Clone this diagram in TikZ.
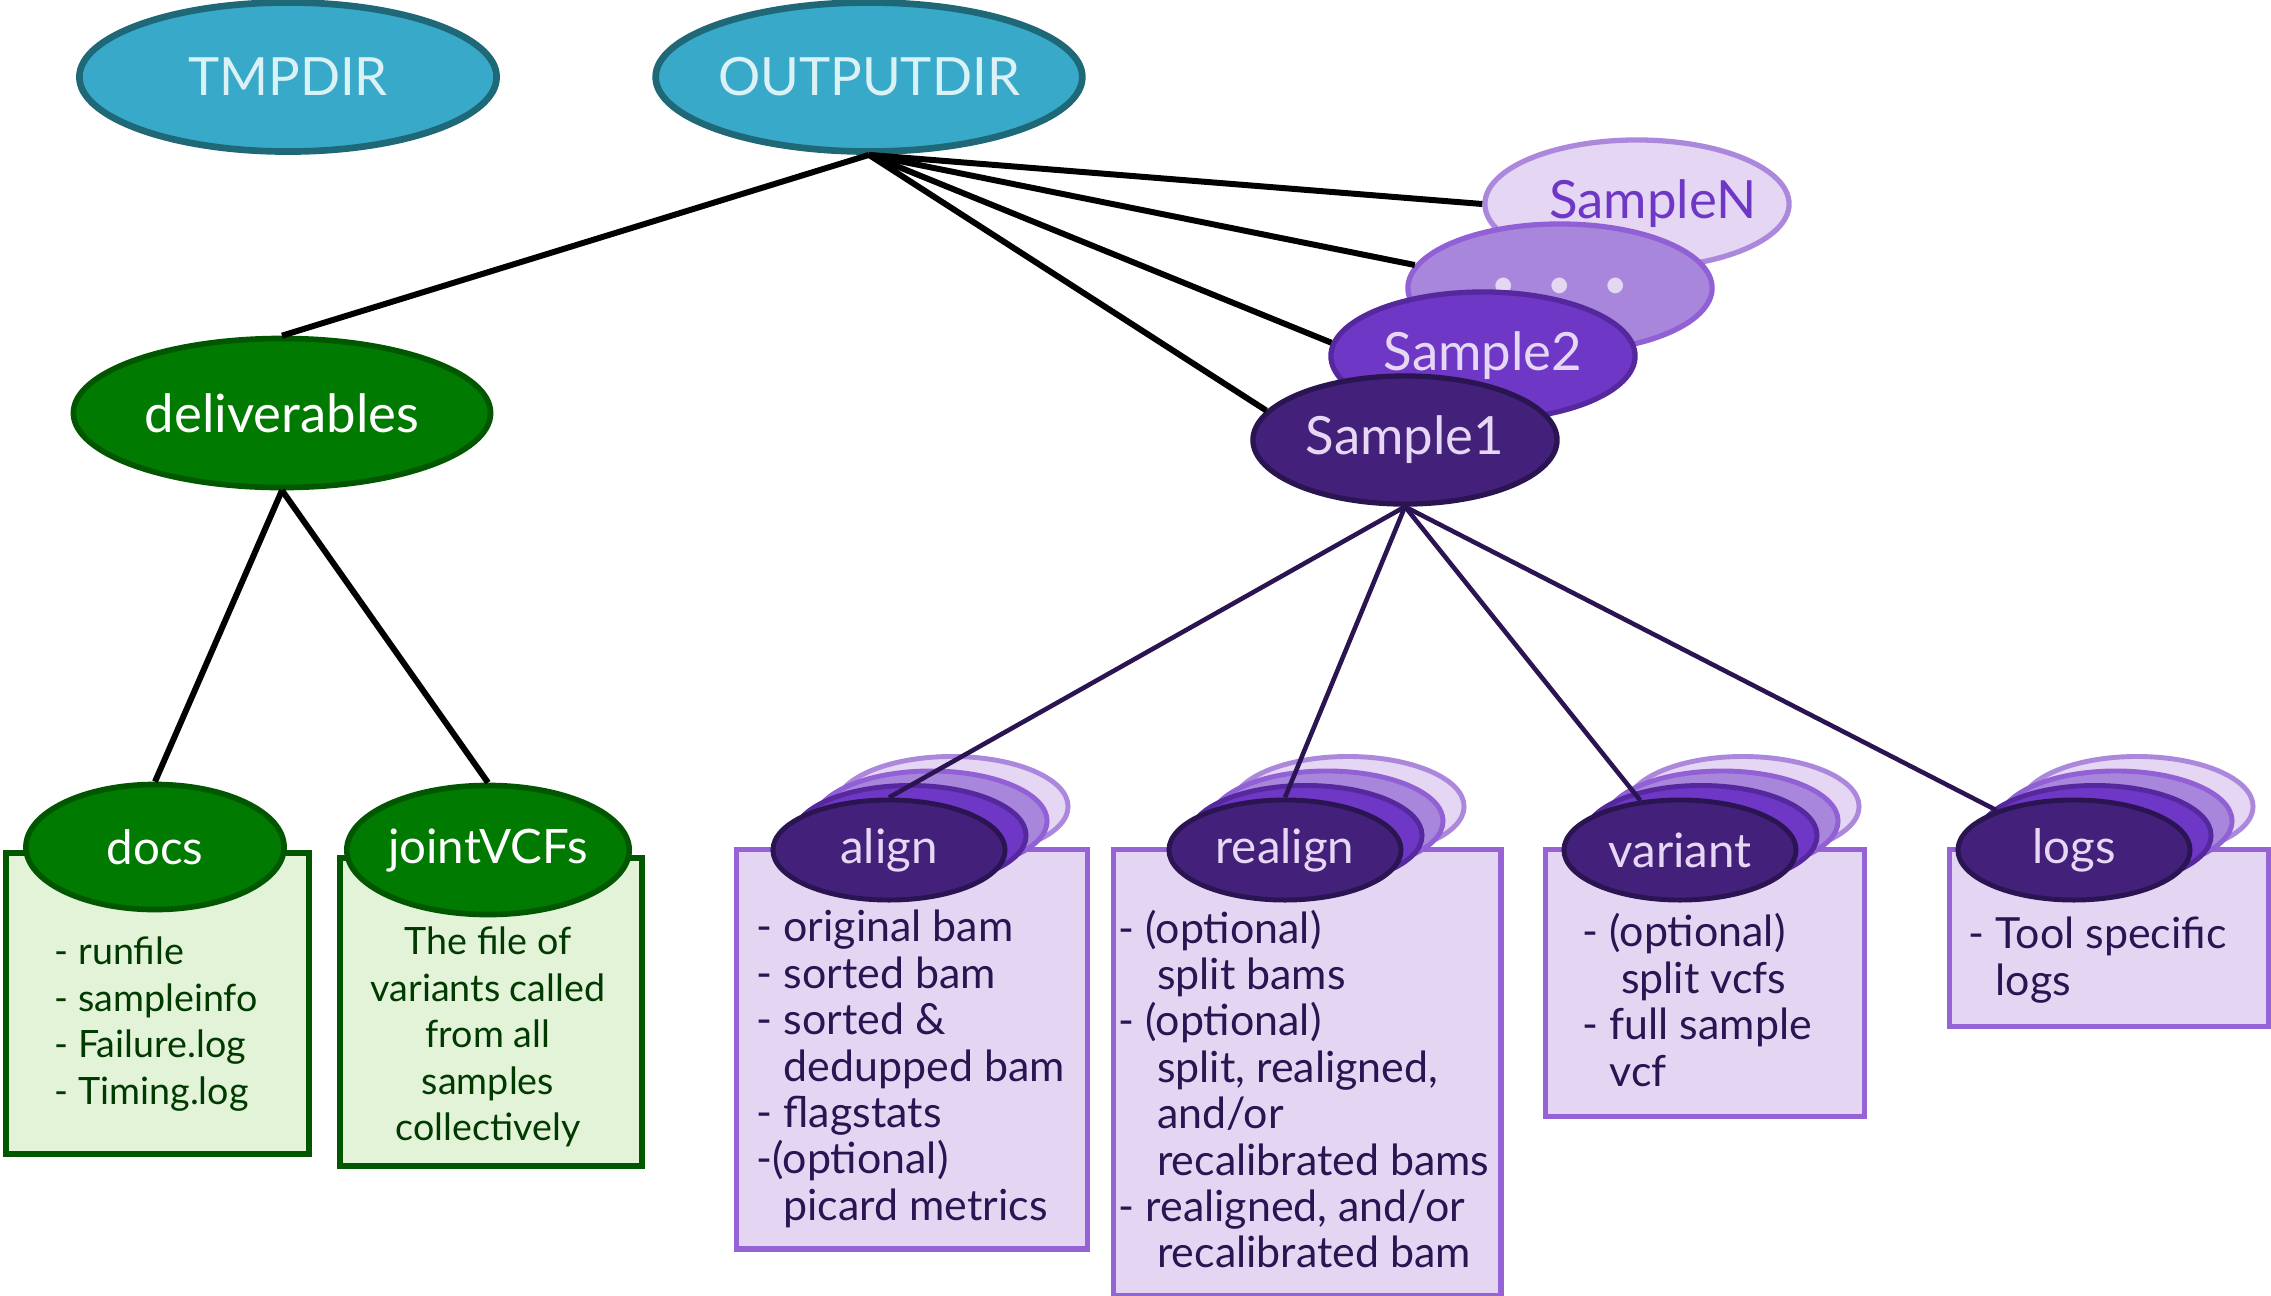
\documentclass[tikz,border=0pt]{standalone}
\usepackage{fontspec}
\setmainfont{Lato}
\usetikzlibrary{shapes.geometric}

\definecolor{tealfill}{HTML}{39A9C9}
\definecolor{tealline}{HTML}{1F6878}
\definecolor{tealtext}{HTML}{DAF1F6}
\definecolor{greenfill}{HTML}{007A00}
\definecolor{greenline}{HTML}{005700}
\definecolor{greenbox}{HTML}{E2F3D8}
\definecolor{greentext}{HTML}{003A00}
\definecolor{purpleA}{HTML}{43217A}
\definecolor{purpleAline}{HTML}{2B1452}
\definecolor{purpleB}{HTML}{6F37C6}
\definecolor{purpleBline}{HTML}{55289E}
\definecolor{purpleC}{HTML}{A886DB}
\definecolor{purpleCline}{HTML}{9060D4}
\definecolor{purpleD}{HTML}{E5D6F3}
\definecolor{purpleDline}{HTML}{AC88DD}
\definecolor{purplebox}{HTML}{E4D6F3}
\definecolor{purpleboxline}{HTML}{9563D6}
\definecolor{lavtext}{HTML}{E6D8F5}

\tikzset{
  dirnode/.style={ellipse,draw=tealline,fill=tealfill,line width=1.9pt,
    minimum width=4.17cm,minimum height=1.49cm,inner sep=0pt,
    text=tealtext,font=\fontsize{15}{18}\selectfont},
  delnode/.style={dirnode,draw=greenline,fill=greenfill,text=white,line width=1.6pt},
  gsub/.style={ellipse,draw=greenline,fill=greenfill,line width=1.6pt,
    inner sep=0pt,text=white,font=\fontsize{13.5}{16}\selectfont},
  gbox/.style={draw=greenline,fill=greenbox,line width=1.6pt,
    anchor=north west,inner sep=0pt},
  gtext/.style={inner sep=0pt,text=greentext,align=left,
    font=\fontsize{10.7}{13.2}\selectfont},
  sample/.style={ellipse,line width=1.5pt,minimum width=3.04cm,
    minimum height=1.28cm,inner sep=0pt,font=\fontsize{15}{18}\selectfont},
  sampleA/.style={sample,fill=purpleA,draw=purpleAline,text=lavtext},
  sampleB/.style={sample,fill=purpleB,draw=purpleBline,text=lavtext},
  sampleC/.style={sample,fill=purpleC,draw=purpleCline,text=purpleD},
  sampleD/.style={sample,fill=purpleD,draw=purpleDline,text=purpleB},
  fold/.style={ellipse,line width=1.4pt,minimum width=2.32cm,
    minimum height=1cm,inner sep=0pt,font=\fontsize{13.5}{16}\selectfont},
  pbox/.style={draw=purpleboxline,fill=purplebox,line width=1.5pt,
    anchor=north west,inner sep=0pt},
  ptext/.style={inner sep=0pt,text=purpleAline,align=left,
    font=\fontsize{12.2}{13.2}\selectfont},
  conn/.style={line width=1.7pt,black},
  pconn/.style={line width=1.3pt,purpleAline}
}
\newcommand{\ind}{\phantom{- }}
\newcommand{\indp}{\phantom{- (}}

\begin{document}
\begin{tikzpicture}[x=0.01cm,y=-0.01cm]
  \useasboundingbox (0,0) rectangle (2271,1296);
  % top level
  \node[dirnode] (tmpdir) at (288,77) {TMPDIR};
  \node[dirnode] (outputdir) at (869,77) {OUTPUTDIR};

  % deliverables branch
  \node[delnode] (deliverables) at (282,413) {deliverables};
  \node[gbox,minimum width=3.03cm,minimum height=3.01cm] (docsbox) at (3,850) {};
  \node[gbox,minimum width=3.02cm,minimum height=3.08cm] (jointbox) at (337,855) {};
  \node[gsub,minimum width=2.58cm,minimum height=1.25cm] (docs) at (155,847) {docs};
  \node[gsub,minimum width=2.77cm,minimum height=1.29cm] (jointvcfs) at (488,850) {jointVCFs};
  \node[gtext,anchor=west] (docstext) at (54,1024)
    {- runfile\\- sampleinfo\\- Failure.log\\- Timing.log};
  \node[gtext,align=center] (jointtext) at (488,1037)
    {The file of\\variants called\\from all\\samples\\collectively};

  % samples
  \node[sampleD] (samplen) at (1637,204) {\makebox[0pt]{\hspace{9pt}SampleN}};
  \node[sampleC] (sampledots) at (1560,288)
    {\fontsize{12}{12}\selectfont\textbullet\hspace{9pt}\textbullet\hspace{9pt}\textbullet};
  \node[sampleB] (sample2) at (1483,356) {Sample2};
  \node[sampleA] (sample1) at (1405,440) {Sample1};

  % per sample folders
  \node[pbox,minimum width=3.51cm,minimum height=3.99cm] (alignbox) at (734,847) {};
  \node[pbox,minimum width=3.87cm,minimum height=4.46cm] (realignbox) at (1111,847) {};
  \node[pbox,minimum width=3.19cm,minimum height=2.67cm] (variantbox) at (1543,847) {};
  \node[pbox,minimum width=3.19cm,minimum height=1.77cm] (logsbox) at (1947,847) {};
  \foreach \f/\x in {align/889,realign/1285,variant/1680,logs/2074} {
    \node[fold,fill=purpleD,draw=purpleDline] (\f-d) at (\x+63,806.5) {};
    \node[fold,fill=purpleC,draw=purpleCline] (\f-c) at (\x+42,821) {};
    \node[fold,fill=purpleB,draw=purpleBline] (\f-b) at (\x+21,835.5) {};
    \node[fold,fill=purpleA,draw=purpleAline,text=lavtext] (\f) at (\x,850) {\f};
  }
  \node[ptext,anchor=west] (aligntext) at (756,1069)
    {- original bam\\- sorted bam\\- sorted \&\\\ind dedupped bam\\- flagstats\\-(optional)\\\ind picard metrics};
  \node[ptext,anchor=west] (realigntext) at (1118,1092)
    {- (optional)\\\indp split bams\\- (optional)\\\indp split, realigned,\\\indp and/or\\\indp recalibrated bams\\- realigned, and/or\\\indp recalibrated bam};
  \node[ptext,anchor=west] (varianttext) at (1582,1000)
    {- (optional)\\\indp split vcfs\\- full sample\\\ind vcf};
  \node[ptext,anchor=west] (logstext) at (1968,960)
    {- Tool specific\\\ind logs};

  % connectors
  \draw[conn] (outputdir.south) -- (deliverables.north);
  \draw[conn] (outputdir.south) -- (samplen.west);
  \draw[conn] (outputdir.south) -- (sampledots.171);
  \draw[conn] (outputdir.south) -- (sample2.175);
  \draw[conn] (outputdir.south) -- (sample1.168);
  \draw[conn] (deliverables.south) -- (docs.north);
  \draw[conn] (deliverables.south) -- (jointvcfs.north);
  \draw[pconn] (sample1.south) -- (align.north);
  \draw[pconn] (sample1.south) -- (realign.north);
  \foreach \f in {variant,logs}
    \draw[pconn] (sample1.south) -- (\f);
\end{tikzpicture}
\end{document}
